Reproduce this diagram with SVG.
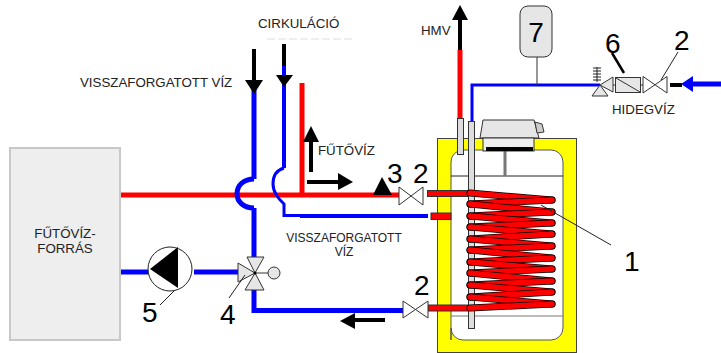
<svg xmlns="http://www.w3.org/2000/svg" width="721" height="353" viewBox="0 0 721 353">
<style>
text{font-family:"Liberation Sans",Arial,sans-serif;fill:#222}
.s{font-size:13.300px}
.s2{font-size:12px}
.n{font-size:28px;fill:#000}
.m{text-anchor:middle}
.r{fill:none;stroke:#f00;stroke-width:5}
.b{fill:none;stroke:#00f;stroke-width:5}
.b2{fill:none;stroke:#00f;stroke-width:4}
.k{fill:none;stroke:#000;stroke-width:4}
.h{fill:#000;stroke:none}
.v{fill:#fff;stroke:#333;stroke-width:1}
.g{fill:#e6e6e6;stroke:#333;stroke-width:1}
.t{fill:none;stroke:#222;stroke-width:1}
.ca{stroke:#000;stroke-width:7;stroke-linecap:round}
.cb{stroke:#f00;stroke-width:5.500;stroke-linecap:round}
.stub{fill:#f00;stroke:#333;stroke-width:1}
</style>
<g id="source">
<rect x="10" y="148" width="110" height="192" fill="#eee" stroke="#c8c8c8" stroke-width="2"/>
<text x="65" y="238" class="s m">FŰTŐVÍZ-</text>
<text x="65" y="253" class="s m">FORRÁS</text>
</g>
<g id="tank">
<rect x="437.500" y="138.500" width="139" height="214" fill="#ff0" stroke="#444" stroke-width="1"/>
<path d="M451 340V162a12 12 0 0 1 12-12H551a12 12 0 0 1 12 12V328a12 12 0 0 1-12 12H463a12 12 0 0 1-12-12Z" fill="#fff" stroke="#555" stroke-width="1"/>
<line x1="451" y1="176" x2="563" y2="176" stroke="#222"/>
<line x1="451" y1="316" x2="563" y2="316" stroke="#777"/>
<line x1="505" y1="150" x2="505" y2="176" stroke="#777" stroke-width="3"/>
</g>
<g id="tank-unit">
<path d="M483 120H534L539 138H480Z" fill="#e6e6e6" stroke="#333"/>
<path d="M535 122l7 2 2 8-7 1Z" fill="#ccc" stroke="#333"/>
<rect x="483" y="138" width="51" height="13" fill="#eee" stroke="#333"/>
<rect x="486" y="147" width="47" height="4" fill="#000"/>
</g>
<g id="connectors">
<path class="r" d="M121 195H399"/>
<path class="r" d="M302 83V195"/>
<path class="r" d="M460 50V118"/>
<path class="b" d="M254 87V179"/>
<path class="b" d="M254 179C244 179 237 185 237 194C237 202 244 208 254 208"/>
<path class="b" d="M254 208V258"/>
<path class="b" d="M254 290V310.500H403"/>
<path class="b2" d="M284 66V168"/>
<path fill="none" stroke="#00f" stroke-width="3" d="M284 168C277 170 273 176 273 184C273 193 279 199 284 204V215.500H300"/>
<path class="b2" d="M300 216H428"/>
<path class="b" d="M121 272H149"/>
<path class="b" d="M194 272H238"/>
<path fill="none" stroke="#00f" stroke-width="3" d="M472 121V85H600"/>
<path class="b" d="M693 84H721"/>
<line x1="537" y1="57" x2="537" y2="85" stroke="#333"/>
<path class="k" d="M670 85H682"/>
<path class="k" d="M460 50V18"/>
<path class="h" d="M460 5L468 20H452Z"/>
<path class="h" d="M681 84L693 76V92Z" style="fill:#00f"/>
<path class="k" d="M254 49V82"/>
<path class="h" d="M254 94L245 80H263Z"/>
<path class="k" d="M284 44V66"/>
<path class="b2" d="M284 66V78"/>
<path class="h" d="M284 87L276 75H293Z"/>
<path class="k" d="M311 172V140"/>
<path class="h" d="M311 126L319 142H303Z"/>
<path class="k" d="M307 182H340"/>
<path class="h" d="M353 182L338 173V190Z"/>
<path class="k" d="M355 320H385"/>
<path class="h" d="M340 321L355 313V329Z"/>
</g>
<g id="tubes">
<rect x="457.500" y="118.500" width="6" height="36" fill="#ddd" stroke="#333"/>
<rect x="468.500" y="121.500" width="6" height="207" fill="#ddd" stroke="#333"/>
<rect x="427.500" y="190.500" width="40" height="6" class="stub"/>
<rect x="431" y="213" width="20" height="6.500" class="stub"/>
<rect x="428" y="305" width="40" height="6" class="stub"/>
</g>
<g id="coil-1">
<line class="ca" x1="470" y1="193" x2="552" y2="200"/><line class="cb" x1="470" y1="193" x2="552" y2="200"/>
<line class="ca" x1="552" y1="200" x2="470" y2="204"/><line class="cb" x1="552" y1="200" x2="470" y2="204"/>
<line class="ca" x1="470" y1="204" x2="552" y2="212"/><line class="cb" x1="470" y1="204" x2="552" y2="212"/>
<line class="ca" x1="552" y1="212" x2="470" y2="216"/><line class="cb" x1="552" y1="212" x2="470" y2="216"/>
<line class="ca" x1="470" y1="216" x2="552" y2="223"/><line class="cb" x1="470" y1="216" x2="552" y2="223"/>
<line class="ca" x1="552" y1="223" x2="470" y2="227"/><line class="cb" x1="552" y1="223" x2="470" y2="227"/>
<line class="ca" x1="470" y1="227" x2="552" y2="234"/><line class="cb" x1="470" y1="227" x2="552" y2="234"/>
<line class="ca" x1="552" y1="234" x2="470" y2="239"/><line class="cb" x1="552" y1="234" x2="470" y2="239"/>
<line class="ca" x1="470" y1="239" x2="552" y2="246"/><line class="cb" x1="470" y1="239" x2="552" y2="246"/>
<line class="ca" x1="552" y1="246" x2="470" y2="250"/><line class="cb" x1="552" y1="246" x2="470" y2="250"/>
<line class="ca" x1="470" y1="250" x2="552" y2="258"/><line class="cb" x1="470" y1="250" x2="552" y2="258"/>
<line class="ca" x1="552" y1="258" x2="470" y2="262"/><line class="cb" x1="552" y1="258" x2="470" y2="262"/>
<line class="ca" x1="470" y1="262" x2="552" y2="269"/><line class="cb" x1="470" y1="262" x2="552" y2="269"/>
<line class="ca" x1="552" y1="269" x2="470" y2="273"/><line class="cb" x1="552" y1="269" x2="470" y2="273"/>
<line class="ca" x1="470" y1="273" x2="552" y2="281"/><line class="cb" x1="470" y1="273" x2="552" y2="281"/>
<line class="ca" x1="552" y1="281" x2="470" y2="285"/><line class="cb" x1="552" y1="281" x2="470" y2="285"/>
<line class="ca" x1="470" y1="285" x2="552" y2="292"/><line class="cb" x1="470" y1="285" x2="552" y2="292"/>
<line class="ca" x1="552" y1="292" x2="470" y2="297"/><line class="cb" x1="552" y1="292" x2="470" y2="297"/>
<line class="ca" x1="470" y1="297" x2="552" y2="304"/><line class="cb" x1="470" y1="297" x2="552" y2="304"/>
<line class="ca" x1="552" y1="304" x2="470" y2="308"/><line class="cb" x1="552" y1="304" x2="470" y2="308"/>
<line class="t" x1="541" y1="205" x2="611" y2="245"/>
<text x="624" y="271" class="n">1</text>
</g>
<g id="valve-2-top">
<path class="v" d="M399 187L423 205V187L399 205Z"/>
<text x="413" y="183" class="n">2</text>
</g>
<g id="valve-2-bottom">
<path class="v" d="M403 301L428 318V301L403 318Z"/>
<text x="414" y="295" class="n">2</text>
</g>
<g id="sensor-3">
<path class="h" d="M382 177L392 195H373Z"/>
<text x="387" y="183" class="n">3</text>
</g>
<g id="valve-4">
<line x1="255" y1="273" x2="268" y2="273" stroke="#777" stroke-width="1.500"/>
<circle cx="274" cy="273" r="6" class="g"/>
<path class="g" d="M255 273L247 257H264Z"/>
<path class="g" d="M255 273L245 290H264Z"/>
<path class="g" d="M255 273L238 263V282Z"/>
<circle cx="255" cy="273" r="1.500" fill="#000"/>
<line class="t" x1="229" y1="298" x2="245" y2="275"/>
<text x="220" y="324" class="n">4</text>
</g>
<g id="pump-5">
<circle cx="170" cy="269" r="22" fill="#fff" stroke="#222"/>
<path class="h" d="M150 269L178 247V288Z"/>
<line class="t" x1="175" y1="290" x2="160" y2="305"/>
<text x="142" y="322" class="n">5</text>
</g>
<g id="vessel-7">
<rect x="520" y="6" width="32" height="51" rx="8" class="g"/>
<text x="536" y="42" class="n m">7</text>
</g>
<g id="valve-safety">
<path d="M597 82V67M593 68h8M593 71h8M593 74h8M593 77h8M593 80h8" fill="none" stroke="#222"/>
<path class="g" d="M600 85L592 96H608Z"/>
<path class="g" d="M600 85L613 77V92Z"/>
</g>
<g id="check-6">
<line x1="613" y1="85" x2="643" y2="85" stroke="#333"/>
<rect x="615.500" y="77.500" width="25" height="15" class="g"/>
<line x1="616" y1="78" x2="640" y2="92" stroke="#333"/>
<line x1="612" y1="53" x2="624" y2="73" stroke="#000" stroke-width="2.500"/>
<text x="605" y="53" class="n">6</text>
</g>
<g id="valve-2-cold">
<path class="v" d="M643 76.500L667 93V76.500L643 93Z"/>
<line class="t" x1="678" y1="52" x2="661" y2="80"/>
<text x="674" y="50" class="n">2</text>
</g>
<g id="labels">
<text x="80" y="87" class="s">VISSZAFORGATOTT VÍZ</text>
<text x="258" y="28" class="s">CIRKULÁCIÓ</text>
<line x1="267" y1="39" x2="355" y2="39" stroke="#ddd" stroke-dasharray="8 3"/>
<text x="421" y="35" class="s">HMV</text>
<text x="318" y="155" class="s">FŰTŐVÍZ</text>
<text x="344" y="242" class="s2 m">VISSZAFORGATOTT</text>
<text x="344" y="256" class="s2 m">VÍZ</text>
<text x="612" y="114" class="s">HIDEGVÍZ</text>
</g>
</svg>
